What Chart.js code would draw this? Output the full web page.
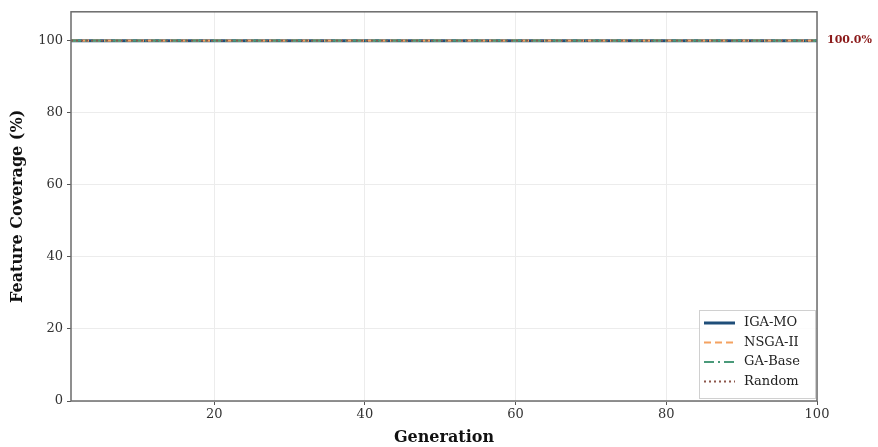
<!DOCTYPE html>
<html>
<head>
<meta charset="utf-8">
<script src="https://cdn.jsdelivr.net/npm/chart.js@4/dist/chart.umd.min.js"></script>
<style>
  html, body { margin: 0; padding: 0; background: #fff; }
  #wrap { width: 878px; height: 447px; }
</style>
</head>
<body>
<div id="wrap"><canvas id="coverageChart" width="878" height="447"></canvas></div>
<script>
// Generations (x axis)
const generations = [
    1, 2, 3, 4, 5, 6, 7, 8, 9, 10, 11, 12, 13, 14, 15, 16, 17, 18, 19, 20,
    21, 22, 23, 24, 25, 26, 27, 28, 29, 30, 31, 32, 33, 34, 35, 36, 37, 38, 39, 40,
    41, 42, 43, 44, 45, 46, 47, 48, 49, 50, 51, 52, 53, 54, 55, 56, 57, 58, 59, 60,
    61, 62, 63, 64, 65, 66, 67, 68, 69, 70, 71, 72, 73, 74, 75, 76, 77, 78, 79, 80,
    81, 82, 83, 84, 85, 86, 87, 88, 89, 90, 91, 92, 93, 94, 95, 96, 97, 98, 99, 100
];

// Feature coverage (%) per algorithm
const igaMo = [
    100, 100, 100, 100, 100, 100, 100, 100, 100, 100, 100, 100, 100, 100, 100, 100, 100, 100, 100, 100,
    100, 100, 100, 100, 100, 100, 100, 100, 100, 100, 100, 100, 100, 100, 100, 100, 100, 100, 100, 100,
    100, 100, 100, 100, 100, 100, 100, 100, 100, 100, 100, 100, 100, 100, 100, 100, 100, 100, 100, 100,
    100, 100, 100, 100, 100, 100, 100, 100, 100, 100, 100, 100, 100, 100, 100, 100, 100, 100, 100, 100,
    100, 100, 100, 100, 100, 100, 100, 100, 100, 100, 100, 100, 100, 100, 100, 100, 100, 100, 100, 100
];
const nsga2 = [
    100, 100, 100, 100, 100, 100, 100, 100, 100, 100, 100, 100, 100, 100, 100, 100, 100, 100, 100, 100,
    100, 100, 100, 100, 100, 100, 100, 100, 100, 100, 100, 100, 100, 100, 100, 100, 100, 100, 100, 100,
    100, 100, 100, 100, 100, 100, 100, 100, 100, 100, 100, 100, 100, 100, 100, 100, 100, 100, 100, 100,
    100, 100, 100, 100, 100, 100, 100, 100, 100, 100, 100, 100, 100, 100, 100, 100, 100, 100, 100, 100,
    100, 100, 100, 100, 100, 100, 100, 100, 100, 100, 100, 100, 100, 100, 100, 100, 100, 100, 100, 100
];
const gaBase = [
    100, 100, 100, 100, 100, 100, 100, 100, 100, 100, 100, 100, 100, 100, 100, 100, 100, 100, 100, 100,
    100, 100, 100, 100, 100, 100, 100, 100, 100, 100, 100, 100, 100, 100, 100, 100, 100, 100, 100, 100,
    100, 100, 100, 100, 100, 100, 100, 100, 100, 100, 100, 100, 100, 100, 100, 100, 100, 100, 100, 100,
    100, 100, 100, 100, 100, 100, 100, 100, 100, 100, 100, 100, 100, 100, 100, 100, 100, 100, 100, 100,
    100, 100, 100, 100, 100, 100, 100, 100, 100, 100, 100, 100, 100, 100, 100, 100, 100, 100, 100, 100
];
const randomSearch = [
    100, 100, 100, 100, 100, 100, 100, 100, 100, 100, 100, 100, 100, 100, 100, 100, 100, 100, 100, 100,
    100, 100, 100, 100, 100, 100, 100, 100, 100, 100, 100, 100, 100, 100, 100, 100, 100, 100, 100, 100,
    100, 100, 100, 100, 100, 100, 100, 100, 100, 100, 100, 100, 100, 100, 100, 100, 100, 100, 100, 100,
    100, 100, 100, 100, 100, 100, 100, 100, 100, 100, 100, 100, 100, 100, 100, 100, 100, 100, 100, 100,
    100, 100, 100, 100, 100, 100, 100, 100, 100, 100, 100, 100, 100, 100, 100, 100, 100, 100, 100, 100
];

const seriesNames = ['IGA-MO', 'NSGA-II', 'GA-Base', 'Random'];
const xTicks = [20, 40, 60, 80, 100];
const yTicks = [0, 20, 40, 60, 80, 100];
const finalLabel = '100.0%';

const serif = "'DejaVu Serif', 'Liberation Serif', serif";

function toPoints(values) {
    return generations.map((g, i) => ({ x: g, y: values[i] }));
}

// cadre complet + légende + annotation finale
const framePlugin = {
    id: 'framePlugin',
    afterDatasetsDraw(chart) {
        const { ctx, chartArea: a } = chart;
        ctx.save();
        ctx.strokeStyle = '#6b6b6b';
        ctx.lineWidth = 1.5;
        ctx.strokeRect(a.left, a.top, a.right - a.left, a.bottom - a.top);

        // annotation de la valeur finale
        const yPos = chart.scales.y.getPixelForValue(igaMo[igaMo.length - 1]);
        ctx.fillStyle = '#8b1a1a';
        ctx.font = 'bold 11px ' + serif;
        ctx.textBaseline = 'middle';
        ctx.textAlign = 'left';
        ctx.fillText(finalLabel, a.right + 10, yPos);

        // légende
        const boxW = 116, boxH = 88;
        const bx = a.right - boxW - 2, by = a.bottom - boxH - 3;
        ctx.fillStyle = 'rgba(255,255,255,0.85)';
        ctx.strokeStyle = '#d0d0d0';
        ctx.lineWidth = 1;
        ctx.fillRect(bx, by, boxW, boxH);
        ctx.strokeRect(bx + 0.5, by + 0.5, boxW, boxH);
        ctx.font = '13px ' + serif;
        chart.data.datasets.forEach((ds, i) => {
            const yy = by + 13 + i * 19.5;
            ctx.beginPath();
            ctx.strokeStyle = ds.borderColor;
            ctx.lineWidth = ds.borderWidth;
            ctx.setLineDash(ds.borderDash || []);
            ctx.moveTo(bx + 5, yy);
            ctx.lineTo(bx + 36, yy);
            ctx.stroke();
            ctx.setLineDash([]);
            ctx.fillStyle = '#222';
            ctx.fillText(ds.label, bx + 45, yy);
        });
        ctx.restore();
    }
};

const ctx = document.getElementById('coverageChart').getContext('2d');
new Chart(ctx, {
    type: 'line',
    data: {
        datasets: [
            {
                label: seriesNames[0],
                data: toPoints(igaMo),
                borderColor: '#1f4e79',
                borderWidth: 3,
                pointRadius: 0,
                order: 4
            },
            {
                label: seriesNames[1],
                data: toPoints(nsga2),
                borderColor: '#f4a261',
                borderWidth: 2.2,
                borderDash: [7, 4],
                pointRadius: 0,
                order: 3
            },
            {
                label: seriesNames[2],
                data: toPoints(gaBase),
                borderColor: '#4a9a7a',
                borderWidth: 2.2,
                borderDash: [10, 4, 2, 4],
                pointRadius: 0,
                order: 2
            },
            {
                label: seriesNames[3],
                data: toPoints(randomSearch),
                borderColor: '#8c564b',
                borderWidth: 1.8,
                borderDash: [2, 3],
                pointRadius: 0,
                order: 1
            }
        ]
    },
    options: {
        responsive: false,
        animation: false,
        layout: { padding: { top: 11, right: 61, left: 0, bottom: 0 } },
        plugins: {
            legend: { display: false },
            tooltip: { enabled: false }
        },
        scales: {
            x: {
                type: 'linear',
                min: 1,
                max: 100,
                afterBuildTicks: (s) => { s.ticks = xTicks.map(v => ({ value: v })); },
                afterFit: (s) => { s.height = 46; },
                grid: { color: '#ececec', lineWidth: 1, tickColor: '#555', tickLength: 4 },
                border: { display: false },
                ticks: { color: '#333', font: { family: serif, size: 13 }, padding: 2, maxRotation: 0 },
                title: {
                    display: true,
                    text: 'Generation',
                    color: '#111',
                    font: { family: serif, size: 16, weight: 'bold' },
                    padding: { top: 0, bottom: 0 }
                }
            },
            y: {
                min: 0,
                max: 108,
                afterBuildTicks: (s) => { s.ticks = yTicks.map(v => ({ value: v })); },
                afterFit: (s) => { s.width = 71; },
                grid: { color: '#ececec', lineWidth: 1, tickColor: '#555', tickLength: 4 },
                border: { display: false },
                ticks: { color: '#333', font: { family: serif, size: 13 }, padding: 4 },
                title: {
                    display: true,
                    text: 'Feature Coverage (%)',
                    color: '#111',
                    font: { family: serif, size: 16, weight: 'bold' },
                    padding: { top: 8, bottom: 0 }
                }
            }
        }
    },
    plugins: [framePlugin]
});
</script>
</body>
</html>
